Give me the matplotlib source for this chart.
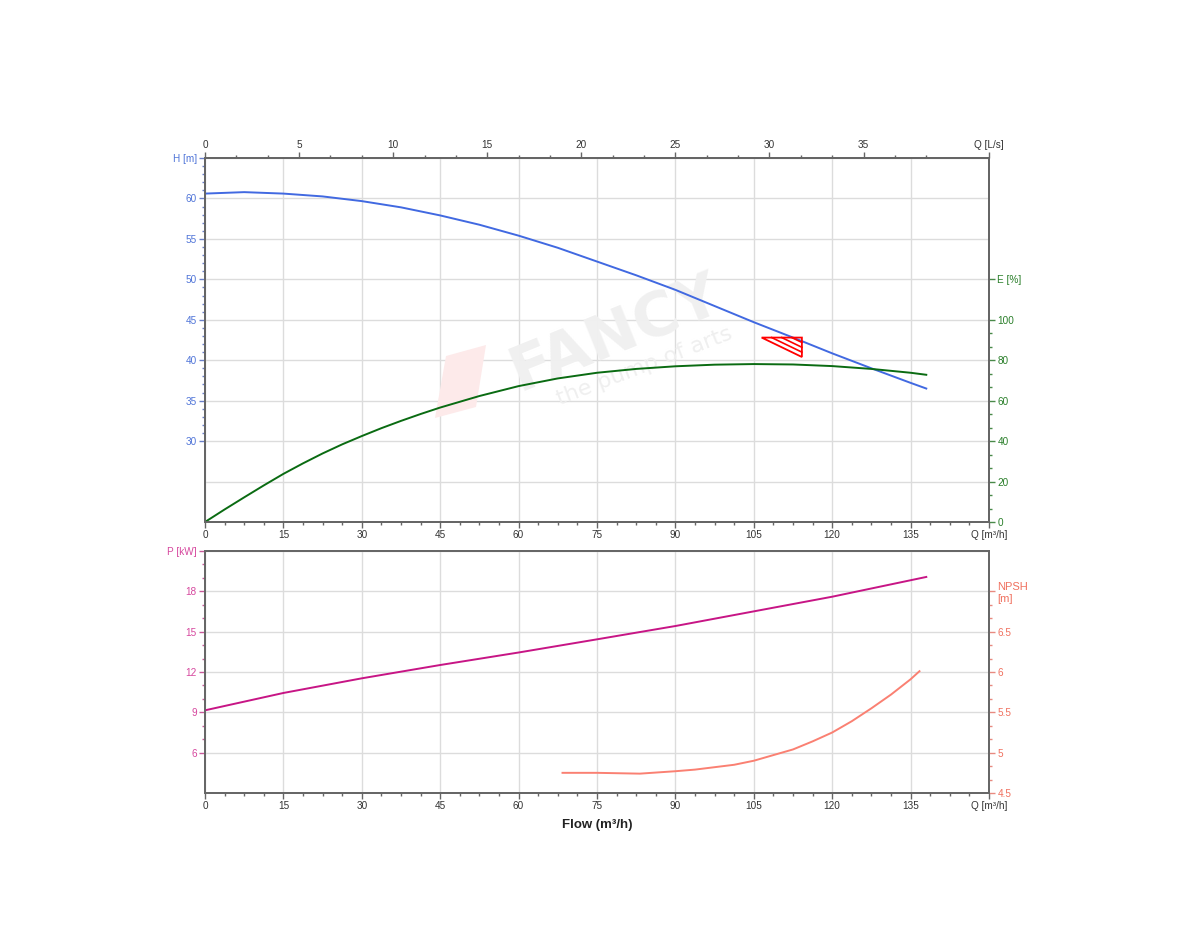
import matplotlib.pyplot as plt
import numpy as np
from matplotlib.ticker import FixedLocator
from matplotlib.patches import Polygon

plt.rcParams['font.family'] = ['Liberation Sans', 'DejaVu Sans']

# == valores ==

# curva H (m) em função da vazão (m³/h)
q_h = [0, 7.5, 15, 22.5, 30, 37.5, 45, 52.5, 60, 67.5, 75, 82.5, 90, 97.5,
       105, 112.5, 120, 127.5, 135, 138]
altura = [60.6, 60.78, 60.6, 60.25, 59.67, 58.9, 57.9, 56.75, 55.4, 53.9,
          52.2, 50.5, 48.7, 46.7, 44.7, 42.8, 40.85, 39.0, 37.2, 36.5]

# rendimento E (%)
q_e = [0, 3.75, 7.5, 11.25, 15, 18.75, 22.5, 26.25, 30, 33.75, 37.5, 41.25,
       45, 52.5, 60, 67.5, 75, 82.5, 90, 97.5, 105, 112.5, 120, 127.5, 135, 138]
rendimento = [0, 6.2, 12.2, 18.1, 23.8, 29.0, 33.9, 38.4, 42.5, 46.4, 50.0,
              53.4, 56.6, 62.3, 67.2, 71.0, 73.8, 75.7, 77.0, 77.8, 78.1, 77.9,
              77.1, 75.7, 73.8, 72.8]

# potência (kW)
q_pot = [0, 15, 30, 45, 60, 75, 90, 105, 120, 138]
potencia = [9.15, 10.44, 11.53, 12.52, 13.45, 14.43, 15.42, 16.51, 17.6, 19.07]

# NPSH (m)
q_npsh = [68.4, 75, 83.2, 90, 93.75, 97.5, 101.25, 105, 108.75, 112.5, 116.25,
          120, 123.75, 127.5, 131.25, 135, 136.7]
npsh = [4.75, 4.75, 4.74, 4.77, 4.79, 4.82, 4.85, 4.90, 4.97, 5.04, 5.14,
        5.25, 5.39, 5.55, 5.72, 5.91, 6.01]

# ponto de trabalho (triângulo vermelho)
tri_q = [106.5, 114.2, 114.2]
tri_h = [42.8, 42.8, 40.4]

# eixos
q_ticks = [0, 15, 30, 45, 60, 75, 90, 105, 120, 135]
ls_ticks = [0, 5, 10, 15, 20, 25, 30, 35]
h_ticks = [30, 35, 40, 45, 50, 55, 60, 65]
h_grade_extra = [25]   # linha de grade sem marca no eixo H
e_ticks = [0, 20, 40, 60, 80, 100, 120]
p_ticks = [6, 9, 12, 15, 18, 21]
n_ticks = [4.5, 5, 5.5, 6, 6.5, 7.0]

# cores
azul = '#4169e1'
verde = '#0a6b12'
magenta = '#c71585'
salmao = '#fa8072'
cinza = '#666666'
texto = '#333333'
grade = '#dcdcdc'

fs = 7.2

fig = plt.figure(figsize=(12, 9.5), dpi=100)


def estilo(ax):
    for s in ax.spines.values():
        s.set_color(cinza)
        s.set_linewidth(1.3)
    ax.tick_params(which='both', direction='out', width=1, pad=2, labelsize=fs)
    ax.tick_params(which='major', length=4)
    ax.tick_params(which='minor', length=2.5)


# == gráfico de cima: H e E ==
ax1 = fig.add_axes([205/1200, 1-522/950, 784/1200, 364/950])
estilo(ax1)
ax1.set_xlim(0, 150)
ax1.set_ylim(20, 65)
ax1.set_xticks(q_ticks + [150])
ax1.set_xticklabels([str(v) for v in q_ticks] + ['Q [m³/h]'], color=texto)
ax1.xaxis.set_minor_locator(FixedLocator([v for v in np.arange(0, 150, 3.75) if v % 15]))
ax1.set_yticks(h_ticks)
ax1.set_yticklabels([str(v) for v in h_ticks[:-1]] + ['H [m]'], color='#4f74d8')
ax1.yaxis.set_minor_locator(FixedLocator([v for v in range(30, 65) if v % 5]))
ax1.tick_params(axis='y', which='both', color='#6a7fc8')
ax1.tick_params(axis='x', which='both', color=cinza)
ax1.grid(True, which='major', color=grade, linewidth=1)
ax1.set_axisbelow(True)
for v in h_grade_extra:
    ax1.axhline(v, color=grade, linewidth=1, zorder=0.5)

# marca d'água
ax1.text(0.513, 0.648, 'FANCY', transform=fig.transFigure, rotation=22,
         fontsize=44, fontweight='bold', color='#f0f0f0', ha='center',
         va='center', zorder=0.6, family='DejaVu Sans')
ax1.text(0.537, 0.615, 'the pump of arts', transform=fig.transFigure,
         rotation=21, fontsize=16, color='#efefef', ha='center', va='center',
         zorder=0.6, family='DejaVu Sans')
logo = Polygon([[435/1200, 1-418/950], [446/1200, 1-356/950],
                [486/1200, 1-345/950], [476/1200, 1-407/950]],
               closed=True, transform=fig.transFigure, facecolor='#fdeaea',
               edgecolor='none', zorder=0.6)
ax1.add_patch(logo)

ax1.plot(q_h, altura, color=azul, linewidth=1.4, zorder=3)

# triângulo com hachuras paralelas à hipotenusa
tri = Polygon(np.column_stack([tri_q, tri_h]), closed=True, fill=False,
              edgecolor='red', linewidth=1.3, zorder=4)
ax1.add_patch(tri)
for t in [0.25, 0.5, 0.75]:
    ax1.plot([tri_q[0] + t*(tri_q[1]-tri_q[0]), tri_q[2]],
             [tri_h[0], tri_h[2] + t*(tri_h[1]-tri_h[2])],
             color='red', linewidth=1.2, zorder=4)

ax1e = ax1.twinx()
estilo(ax1e)
ax1e.set_ylim(0, 180)
ax1e.set_yticks(e_ticks)
ax1e.set_yticklabels([str(v) for v in e_ticks[:-1]] + ['E [%]'], color='#2a7f2a')
ax1e.yaxis.set_minor_locator(FixedLocator([k*20/3 for k in range(15) if k % 3]))
ax1e.tick_params(axis='y', which='both', color='#4a8a4a')
ax1e.plot(q_e, rendimento, color=verde, linewidth=1.4, zorder=3)

ax1t = ax1.twiny()
estilo(ax1t)
ax1t.set_xlim(0, 150/3.6)
ax1t.set_xticks(ls_ticks + [150/3.6])
ax1t.set_xticklabels([str(v) for v in ls_ticks] + ['Q [L/s]'], color=texto)
ax1t.xaxis.set_minor_locator(FixedLocator([k*5/3 for k in range(25) if k % 3]))
ax1t.tick_params(axis='x', which='both', color=cinza)

# == gráfico de baixo: P e NPSH ==
ax2 = fig.add_axes([205/1200, 1-793/950, 784/1200, 242/950])
estilo(ax2)
ax2.set_xlim(0, 150)
ax2.set_ylim(3, 21)
ax2.set_xticks(q_ticks + [150])
ax2.set_xticklabels([str(v) for v in q_ticks] + ['Q [m³/h]'], color=texto)
ax2.xaxis.set_minor_locator(FixedLocator([v for v in np.arange(0, 150, 3.75) if v % 15]))
ax2.set_yticks(p_ticks)
ax2.set_yticklabels([str(v) for v in p_ticks[:-1]] + ['P [kW]'], color='#d6479e')
ax2.yaxis.set_minor_locator(FixedLocator([v for v in range(6, 21) if v % 3]))
ax2.tick_params(axis='y', which='both', color='#c75a9a')
ax2.tick_params(axis='x', which='both', color=cinza)
ax2.grid(True, which='major', color=grade, linewidth=1)
ax2.set_axisbelow(True)
ax2.plot(q_pot, potencia, color=magenta, linewidth=1.4, zorder=3)

ax2n = ax2.twinx()
estilo(ax2n)
ax2n.set_ylim(4.5, 7.5)
ax2n.set_yticks(n_ticks)
ax2n.set_yticklabels(['4.5', '5', '5.5', '6', '6.5', 'NPSH\n[m]'], color='#f0705e')
ax2n.yaxis.set_minor_locator(FixedLocator([4.5 + k/6 for k in range(15) if k % 3]))
ax2n.tick_params(axis='y', which='both', color='#e88a80')
for lab in ax2n.get_yticklabels():
    lab.set_horizontalalignment('left')
ax2n.get_yticklabels()[-1].set_fontsize(8)
ax2n.plot(q_npsh, npsh, color=salmao, linewidth=1.4, zorder=3)

fig.text(597/1200, 1-825/950, 'Flow (m³/h)', fontsize=9.5, fontweight='bold',
         color='#222222', ha='center', va='center')

fig.savefig('out.png', dpi=100, facecolor='white')
